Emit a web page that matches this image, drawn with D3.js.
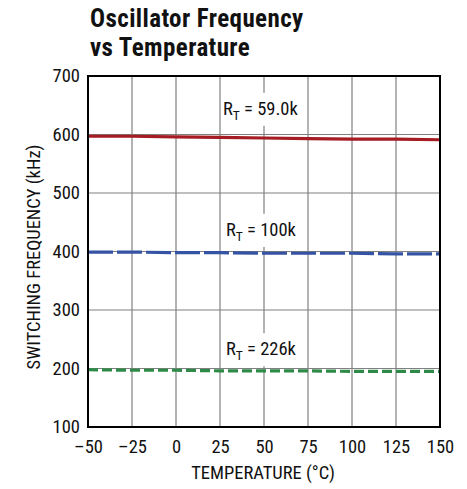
<!DOCTYPE html>
<html><head><meta charset="utf-8">
<script src="https://cdn.jsdelivr.net/npm/d3@7"></script>
<style>
body{margin:0;background:#fff;}
text{font-family:"Liberation Sans Narrow","Roboto Condensed","Liberation Sans",Roboto,sans-serif;}
</style></head>
<body>
<svg id="c" width="467" height="489"></svg>
<script>
const temps = [-50, -25, 0, 25, 50, 75, 100, 125, 150];
const freqRT59 = [597, 597, 596, 595, 594, 593, 592, 592, 591];
const freqRT100 = [399, 399, 398, 398, 397, 397, 397, 396, 396];
const freqRT226 = [198, 197, 197, 196, 196, 196, 195, 195, 195];
const xTicks = [-50, -25, 0, 25, 50, 75, 100, 125, 150];
const yTicks = [100, 200, 300, 400, 500, 600, 700];
const seriesLabels = ["59.0k", "100k", "226k"];

const svg = d3.select("#c");
const L = 88, R = 440, T = 76, B = 427;
const FS = 18.5;
const x = d3.scaleLinear().domain([-50, 150]).range([L, R]);
const y = d3.scaleLinear().domain([100, 700]).range([B, T]);

// title
svg.append("text").attr("x", 90).attr("y", 27).attr("letter-spacing", 0.4)
  .attr("font-size", 25).attr("font-weight", "bold").attr("fill", "#111").text("Oscillator Frequency");
svg.append("text").attr("x", 90).attr("y", 56).attr("letter-spacing", 0.4)
  .attr("font-size", 25).attr("font-weight", "bold").attr("fill", "#111").text("vs Temperature");

// grid
const g = svg.append("g");
g.selectAll("line.vx").data(xTicks.slice(1, -1)).enter().append("line")
  .attr("x1", d => x(d)).attr("x2", d => x(d)).attr("y1", T).attr("y2", B)
  .attr("stroke", "#808080").attr("stroke-width", 1.2);
g.selectAll("line.hy").data(yTicks.slice(1, -1)).enter().append("line")
  .attr("x1", L).attr("x2", R).attr("y1", d => y(d)).attr("y2", d => y(d))
  .attr("stroke", "#808080").attr("stroke-width", 1.2);

// axes tick labels
const xAxis = d3.axisBottom(x).tickValues(xTicks).tickSize(0).tickPadding(13)
  .tickFormat(d => d < 0 ? "\u2013" + Math.abs(d) : d);
const xa = svg.append("g").attr("transform", `translate(0,${B})`).call(xAxis);
xa.select(".domain").remove();
xa.attr("font-family", null).attr("font-size", FS);
xa.selectAll("text").attr("fill", "#111");

const yAxis = d3.axisLeft(y).tickValues(yTicks).tickSize(0).tickPadding(8);
const ya = svg.append("g").attr("transform", `translate(${L},0)`).call(yAxis);
ya.select(".domain").remove();
ya.attr("font-family", null).attr("font-size", FS);
ya.selectAll("text").attr("fill", "#111");

// axis titles
svg.append("text").attr("x", 263).attr("y", 479).attr("text-anchor", "middle")
  .attr("font-size", FS).attr("fill", "#111").text("TEMPERATURE (°C)");
svg.append("text").attr("transform", `translate(40,257) rotate(-90)`)
  .attr("text-anchor", "middle").attr("font-size", FS).attr("fill", "#111")
  .text("SWITCHING FREQUENCY (kHz)");

// labels with white background
const labelPos = [{v: 644, s: seriesLabels[0], x: 223}, {v: 437, s: seriesLabels[1], x: 226}, {v: 233, s: seriesLabels[2], x: 226}];
labelPos.forEach(p => {
  const t = svg.append("text").attr("x", p.x).attr("y", y(p.v) + 6).attr("font-size", FS).attr("fill", "#111");
  t.append("tspan").text("R");
  t.append("tspan").attr("font-size", 13.5).attr("dy", 5).text("T");
  t.append("tspan").attr("dy", -5).text(" = " + p.s);
  const bb = t.node().getBBox();
  svg.insert("rect", function(){ return t.node(); })
    .attr("x", bb.x - 2).attr("y", bb.y - 5).attr("width", bb.width + 4).attr("height", bb.height + 8)
    .attr("fill", "#fff");
});

// lines
const line = d3.line().x((d, i) => x(temps[i])).y(d => y(d));
svg.append("path").datum(freqRT59).attr("d", line).attr("fill", "none")
  .attr("stroke", "#a51c22").attr("stroke-width", 3.2);
svg.append("path").datum(freqRT100).attr("d", line).attr("fill", "none")
  .attr("stroke", "#3453a4").attr("stroke-width", 3.2).attr("stroke-dasharray", "25,4");
svg.append("path").datum(freqRT226).attr("d", line).attr("fill", "none")
  .attr("stroke", "#2e8a47").attr("stroke-width", 3.2).attr("stroke-dasharray", "10,4");

// frame
svg.append("rect").attr("x", L).attr("y", T).attr("width", R - L).attr("height", B - T)
  .attr("fill", "none").attr("stroke", "#000").attr("stroke-width", 2);
</script>
</body></html>
